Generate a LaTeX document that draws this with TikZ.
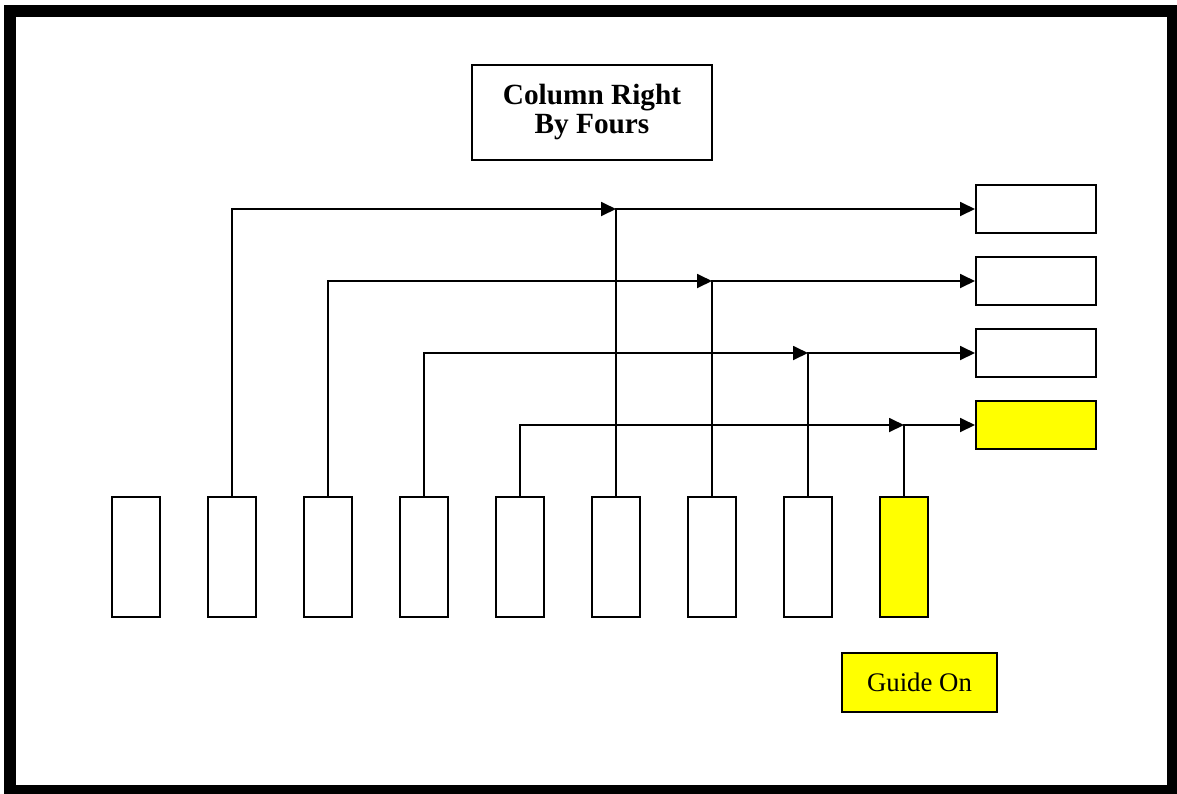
\documentclass[tikz,border=0pt]{standalone}
\usepackage{fontspec}
\setmainfont{Liberation Serif}
\usepackage{xcolor}
\usetikzlibrary{shapes,arrows.meta,positioning,calc}
\definecolor{guideyellow}{RGB}{255,255,0}

\begin{document}
\begin{tikzpicture}[x=1pt,y=-1pt]
  \tikzstyle{file}=[rectangle, draw=black, fill=white, line width=2pt, minimum width=48pt, minimum height=120pt, inner sep=0pt]
  \tikzstyle{rank}=[rectangle, draw=black, fill=white, line width=2pt, minimum width=120pt, minimum height=48pt, inner sep=0pt]
  \tikzstyle{move}=[line width=1.8pt, -{Triangle[length=15pt,width=14pt]}]

  \useasboundingbox (0,0) rectangle (1177,793);
  \draw[line width=12pt] (10,11) rectangle (1173,791);

  % Titel
  \node[rectangle, draw=black, line width=2pt, minimum width=240pt, minimum height=95pt, align=center, font=\fontsize{29.3}{29}\selectfont\bfseries] (title) at (592,112) {Column Right\\By Fours};

  % Kolonne
  \node[file] (c1) at (136,557) {};
  \node[file] (c2) at (232,557) {};
  \node[file] (c3) at (328,557) {};
  \node[file] (c4) at (424,557) {};
  \node[file] (c5) at (520,557) {};
  \node[file] (c6) at (616,557) {};
  \node[file] (c7) at (712,557) {};
  \node[file] (c8) at (808,557) {};
  \node[file, fill=guideyellow] (c9) at (904,557) {};

  % Ziel
  \node[rank] (r1) at (1036,209) {};
  \node[rank] (r2) at (1036,281) {};
  \node[rank] (r3) at (1036,353) {};
  \node[rank, fill=guideyellow] (r4) at (1036,425) {};

  \node[rectangle, draw=black, fill=guideyellow, line width=2pt, minimum width=155pt, minimum height=59pt, font=\fontsize{26.8}{30}\selectfont] (guide) at (919.5,682.5) {Guide On};

  \draw[move] (c2.north) |- (c6.north |- r1.west);
  \draw[move] (c6.north) |- (r1.west);
  \draw[move] (c3.north) |- (c7.north |- r2.west);
  \draw[move] (c7.north) |- (r2.west);
  \draw[move] (c4.north) |- (c8.north |- r3.west);
  \draw[move] (c8.north) |- (r3.west);
  \draw[move] (c5.north) |- (c9.north |- r4.west);
  \draw[move] (c9.north) |- (r4.west);
\end{tikzpicture}
\end{document}
